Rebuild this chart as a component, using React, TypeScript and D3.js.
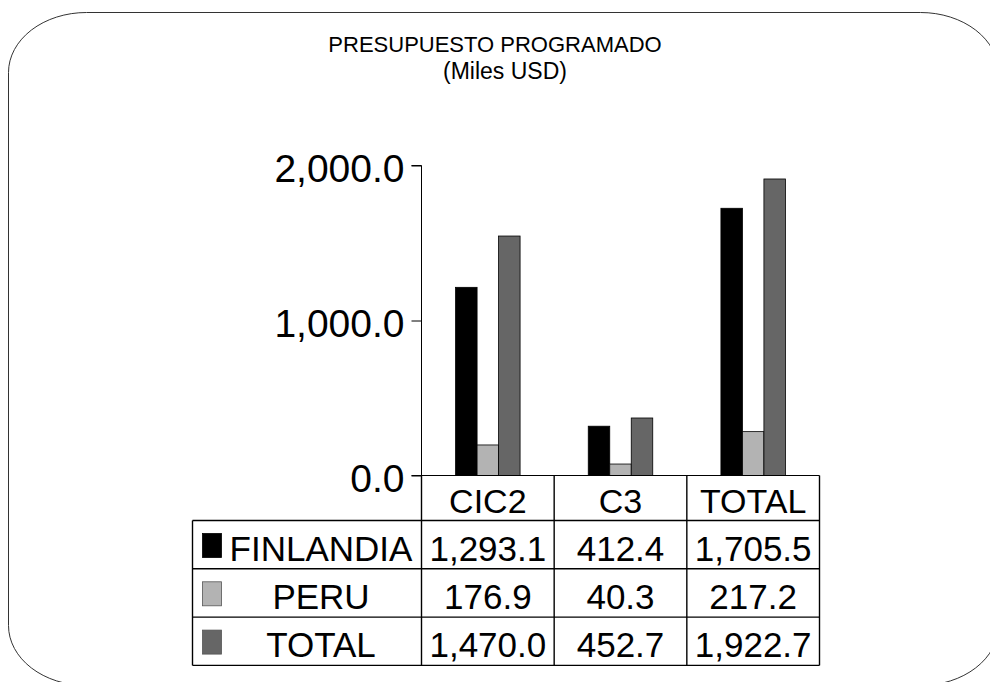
import * as d3 from 'd3';
import React, { useEffect, useRef } from 'react';

const categories = ['CIC2', 'C3', 'TOTAL'];
const seriesNames = ['FINLANDIA', 'PERU', 'TOTAL'];
const seriesColors = ['#000000', '#b3b3b3', '#666666'];

// bar heights as drawn in the picture
const finlandiaBars = [1214, 318, 1724];
const peruBars = [197, 74, 283];
const totalBars = [1545, 371, 1913];

// values printed in the data table
const finlandiaLabels = ['1,293.1', '412.4', '1,705.5'];
const peruLabels = ['176.9', '40.3', '217.2'];
const totalLabels = ['1,470.0', '452.7', '1,922.7'];

const yTicks = [0, 1000, 2000];

const FONT = 'Liberation Sans, Arial, sans-serif';

const App = () => {
   const ref = useRef<SVGSVGElement | null>(null);

   useEffect(() => {
      const svg = d3.select(ref.current);
      svg.selectAll('*').remove();

      // rounded frame, runs past the bottom/right of the page
      svg.append('rect')
         .attr('x', 8.5)
         .attr('y', 12.5)
         .attr('width', 990)
         .attr('height', 673)
         .attr('rx', 78)
         .attr('ry', 60)
         .attr('fill', 'none')
         .attr('stroke', '#333')
         .attr('stroke-width', 1);

      // title
      svg.append('text')
         .attr('x', 495)
         .attr('y', 52)
         .attr('text-anchor', 'middle')
         .attr('font-family', FONT)
         .attr('font-size', 22)
         .text('PRESUPUESTO PROGRAMADO');
      svg.append('text')
         .attr('x', 505)
         .attr('y', 79)
         .attr('text-anchor', 'middle')
         .attr('font-family', FONT)
         .attr('font-size', 23)
         .text('(Miles USD)');

      const plotLeft = 421.5;
      const plotRight = 819.5;
      const y = d3.scaleLinear().domain([0, 2000]).range([475.5, 165.5]);
      const x0 = d3.scaleBand().domain(categories).range([plotLeft, plotRight]).paddingInner(0).paddingOuter(0);
      const groupWidth = 64.5;
      const x1 = d3.scaleBand().domain(seriesNames.map((_, i) => String(i))).range([0, groupWidth]);

      // y axis
      const axis = svg.append('g')
         .attr('transform', `translate(${plotLeft},0)`)
         .call(
            d3.axisLeft(y)
               .tickValues(yTicks)
               .tickSize(10)
               .tickPadding(7)
               .tickFormat((d) => d3.format(',.1f')(d as number)),
         );
      axis.select('.domain').attr('stroke', '#000').attr('d', `M-10,${y(2000)}H0V${y(0)}`);
      axis.selectAll('.tick line').attr('stroke', '#000');
      axis.selectAll('.tick text')
         .attr('font-family', FONT)
         .attr('font-size', 39)
         .attr('dy', '0.42em')
         .attr('fill', '#000');

      // bars
      const barSeries = [finlandiaBars, peruBars, totalBars];
      barSeries.forEach((vals, si) => {
         svg.append('g')
            .selectAll('rect')
            .data(vals)
            .join('rect')
            .attr('x', (_, i) => (x0(categories[i]) ?? 0) + (x0.bandwidth() - groupWidth) / 2 + (x1(String(si)) ?? 0))
            .attr('y', (d) => y(d))
            .attr('width', x1.bandwidth())
            .attr('height', (d) => y(0) - y(d))
            .attr('fill', seriesColors[si])
            .attr('stroke', '#000')
            .attr('stroke-width', 0.8);
      });

      // baseline across the table header
      svg.append('line')
         .attr('x1', plotLeft - 10)
         .attr('x2', plotRight)
         .attr('y1', y(0))
         .attr('y2', y(0))
         .attr('stroke', '#000')
         .attr('stroke-width', 1.2);

      // data table
      const tableLeft = 192.5;
      const headerBottom = 520.5;
      const rowH = 48.3;
      const g = svg.append('g').attr('stroke', '#000').attr('stroke-width', 1.4);

      // header cells
      categories.forEach((c) => {
         svg.append('text')
            .attr('x', (x0(c) ?? 0) + x0.bandwidth() / 2)
            .attr('y', headerBottom - 8)
            .attr('text-anchor', 'middle')
            .attr('font-family', FONT)
            .attr('font-size', 34)
            .text(c);
      });
      [...categories.map((c) => x0(c) ?? 0), plotRight].forEach((xx) => {
         g.append('line').attr('x1', xx).attr('x2', xx).attr('y1', y(0)).attr('y2', headerBottom + rowH * 3);
      });
      g.append('line').attr('x1', tableLeft).attr('x2', tableLeft).attr('y1', headerBottom).attr('y2', headerBottom + rowH * 3);
      for (let r = 0; r <= 3; r++) {
         g.append('line')
            .attr('x1', tableLeft)
            .attr('x2', plotRight)
            .attr('y1', headerBottom + rowH * r)
            .attr('y2', headerBottom + rowH * r);
      }

      const tableRows = [finlandiaLabels, peruLabels, totalLabels];
      tableRows.forEach((labels, r) => {
         const top = headerBottom + rowH * r;
         // legend key
         svg.append('rect')
            .attr('x', 202.5)
            .attr('y', top + 13)
            .attr('width', 19)
            .attr('height', 24)
            .attr('fill', seriesColors[r])
            .attr('stroke', r === 0 ? '#000' : '#555')
            .attr('stroke-width', 0.8);
         svg.append('text')
            .attr('x', 321)
            .attr('y', top + 40)
            .attr('text-anchor', 'middle')
            .attr('font-family', FONT)
            .attr('font-size', 35)
            .text(seriesNames[r]);
         labels.forEach((lab, i) => {
            svg.append('text')
               .attr('x', (x0(categories[i]) ?? 0) + x0.bandwidth() / 2)
               .attr('y', top + 40)
               .attr('text-anchor', 'middle')
               .attr('font-family', FONT)
               .attr('font-size', 35)
               .text(lab);
         });
      });
   }, []);

   return (
      <svg
         ref={ref}
         width={990}
         height={682}
         style={{ position: 'absolute', left: 0, top: 0, background: '#fff' }}
      />
   );
};

export default App;
